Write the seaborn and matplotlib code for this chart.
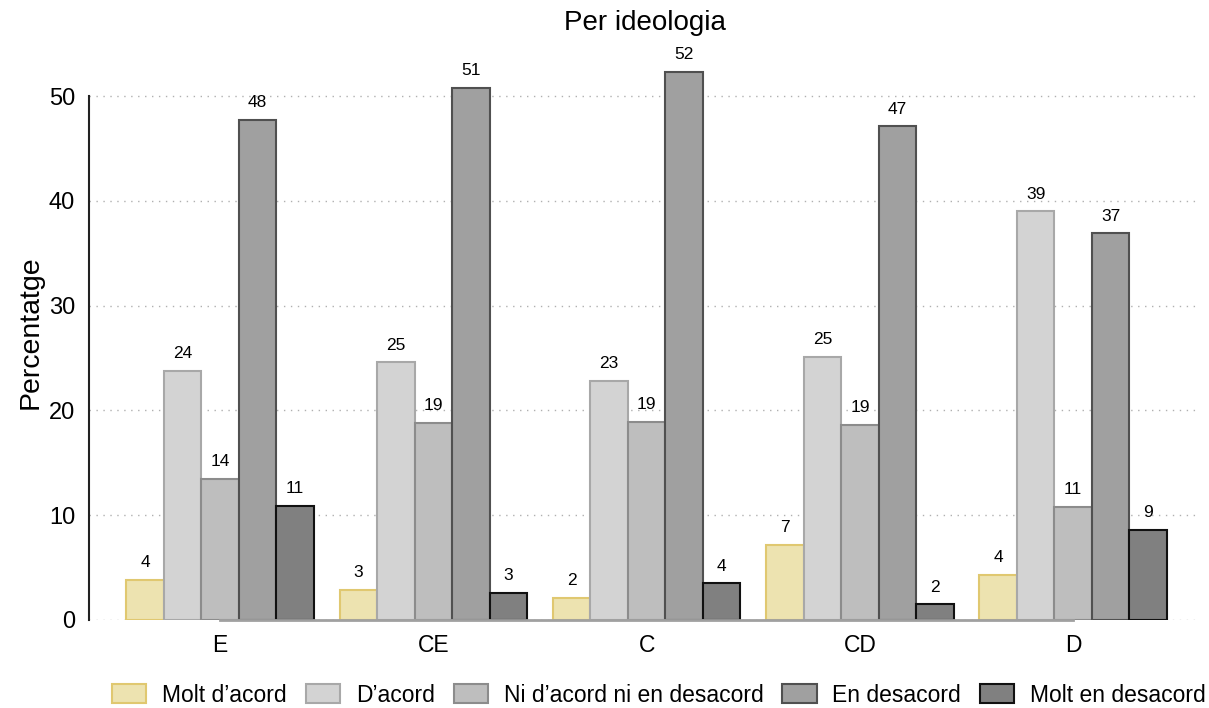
import matplotlib
matplotlib.use("Agg")
import matplotlib.pyplot as plt
from matplotlib.patches import Patch
import pandas as pd
import seaborn as sns

ideologies = ["E", "CE", "C", "CD", "D"]
responses = ["Molt d\u2019acord", "D\u2019acord", "Ni d\u2019acord ni en desacord",
             "En desacord", "Molt en desacord"]

molt_acord = [3.8, 2.9, 2.1, 7.2, 4.3]
acord = [23.8, 24.6, 22.8, 25.1, 39.0]
ni_ni = [13.5, 18.8, 18.9, 18.6, 10.8]
desacord = [47.7, 50.8, 52.3, 47.1, 36.9]
molt_desacord = [10.9, 2.6, 3.5, 1.5, 8.6]

fills = ["#ede3b0", "#d3d3d3", "#bebebe", "#a0a0a0", "#808080"]
edges = ["#e0c870", "#a8a8a8", "#8c8c8c", "#505050", "#111111"]

series = [molt_acord, acord, ni_ni, desacord, molt_desacord]
rows = []
for resp, vals in zip(responses, series):
    for ideo, v in zip(ideologies, vals):
        rows.append({"ideologia": ideo, "resposta": resp, "pct": v})
df = pd.DataFrame(rows)

sns.set_style("white")
plt.rcParams["font.family"] = ["Liberation Sans", "DejaVu Sans"]
plt.rcParams["text.color"] = "black"
plt.rcParams["axes.labelcolor"] = "black"
plt.rcParams["xtick.color"] = "black"
plt.rcParams["ytick.color"] = "black"

fig = plt.figure(figsize=(12.09, 7.08), dpi=100)
ax = fig.add_axes([0.0736, 0.1243, 0.919, 0.814])

sns.barplot(data=df, x="ideologia", y="pct", hue="resposta", order=ideologies,
            hue_order=responses, palette=fills, width=0.88, gap=0,
            saturation=1, legend=False, ax=ax, zorder=3)

for cont, ec in zip(ax.containers, edges):
    for bar in cont:
        bar.set_edgecolor(ec)
        bar.set_linewidth(1.5)
    ax.bar_label(cont, labels=[f"{b.get_height():.0f}" for b in cont],
                 padding=7, fontsize=12.5, color="black")

ax.set_ylim(0, 55)
ax.set_xlim(-0.615, 4.595)
ax.set_yticks([0, 10, 20, 30, 40, 50])
ax.yaxis.grid(True, linestyle=(0, (1, 4)), color="#b0b0b0", linewidth=1)
ax.set_axisbelow(True)

for s in ["top", "right"]:
    ax.spines[s].set_visible(False)
ax.spines["left"].set_bounds(0, 50)
ax.spines["left"].set_color("#222222")
ax.spines["left"].set_linewidth(1.5)
ax.spines["bottom"].set_bounds(0, 4)
ax.spines["bottom"].set_color("#a0a0a0")
ax.spines["bottom"].set_linewidth(2)
ax.spines["bottom"].set_zorder(4)

ax.tick_params(axis="y", length=8, color="#a0a0a0", width=1.2, pad=2, labelsize=17)
ax.tick_params(axis="x", length=0, pad=10, labelsize=16.5)
ax.set_xlabel("")
ax.set_ylabel("Percentatge", fontsize=20.5, labelpad=4)
ax.set_title("Per ideologia", fontsize=20, pad=10)

handles = [Patch(facecolor=f, edgecolor=e, linewidth=1.5) for f, e in zip(fills, edges)]
fig.legend(handles, responses, loc="center", bbox_to_anchor=(0.545, 0.018), ncol=5,
           frameon=False, fontsize=16.5, handlelength=1.5, handleheight=0.9,
           handletextpad=0.68, columnspacing=0.83, borderpad=0.2)

fig.savefig("out.png", dpi=100)
